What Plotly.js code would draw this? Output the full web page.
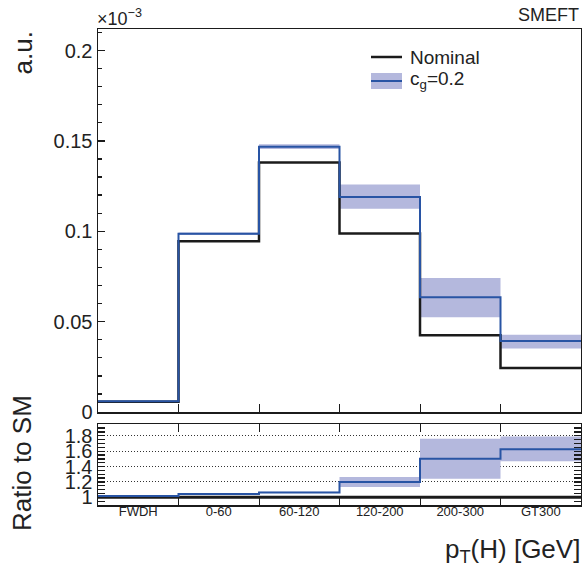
<!DOCTYPE html>
<html>
<head>
<meta charset="utf-8">
<script src="https://cdn.plot.ly/plotly-3.0.1.min.js"></script>
<style>html,body{margin:0;padding:0;background:#fff;}#chart{width:582px;height:572px;}</style>
</head>
<body>
<div id="chart"></div>
<script>
// ---- data (values in units of 1e-3 a.u.) ----
var categories = ['FWDH', '0-60', '60-120', '120-200', '200-300', 'GT300'];
var binEdges = [0, 1, 2, 3, 4, 5, 6];
var nominal = [0.0057, 0.0945, 0.1380, 0.0987, 0.0424, 0.0244];
var cg = [0.0059, 0.0986, 0.1467, 0.1190, 0.0635, 0.0393];
var cgLow = [0.0057, 0.0979, 0.1455, 0.1124, 0.0524, 0.0352];
var cgHigh = [0.0061, 0.0993, 0.1482, 0.1259, 0.0742, 0.0428];
var ratioNominal = [1, 1, 1, 1, 1, 1];
var ratio = [1.017, 1.043, 1.063, 1.200, 1.500, 1.626];
var ratioLow = [1.008, 1.036, 1.055, 1.135, 1.240, 1.470];
var ratioHigh = [1.026, 1.050, 1.071, 1.265, 1.760, 1.790];
var topTickVals = [0, 0.05, 0.1, 0.15, 0.2];
var topTickText = ['0', '0.05', '0.1', '0.15', '0.2'];
var ratioTickVals = [1, 1.2, 1.4, 1.6, 1.8];
var ratioTickText = ['1', '1.2', '1.4', '1.6', '1.8'];

// ---- layout geometry ----
var W = 582, H = 572;
var mL = 98, mR = 1, mT = 29, mB = 67;
var plotH = H - mT - mB;
var topBottomPx = 412, ratioTopPx = 424, ratioBottomPx = H - mB;
function px2x(px) { return (px - mL) / (W - mL - mR); }
function py2y(py) { return (ratioBottomPx - py) / plotH; }

function step(vals) { return vals.concat([vals[vals.length - 1]]); }
var centers = categories.map(function (c, i) { return (binEdges[i] + binEdges[i + 1]) / 2; });

var FONT = 'Liberation Sans, Arial, Helvetica, sans-serif';
var BLUE = 'rgb(40,84,164)';
var BAND = 'rgb(180,184,221)';
var BLACK = '#1b1b1b';

var traces = [
  // top panel
  {x: binEdges, y: step(cgLow), xaxis: 'x', yaxis: 'y', mode: 'lines', line: {shape: 'hv', width: 0, color: BAND}, hoverinfo: 'skip', showlegend: false},
  {x: binEdges, y: step(cgHigh), xaxis: 'x', yaxis: 'y', mode: 'lines', line: {shape: 'hv', width: 0, color: BAND}, fill: 'tonexty', fillcolor: BAND, hoverinfo: 'skip', showlegend: false},
  {x: binEdges, y: step(nominal), xaxis: 'x', yaxis: 'y', mode: 'lines', line: {shape: 'hv', width: 2.5, color: BLACK}, showlegend: false},
  {x: binEdges, y: step(cg), xaxis: 'x', yaxis: 'y', mode: 'lines', line: {shape: 'hv', width: 2, color: BLUE}, showlegend: false},
  // ratio panel
  {x: binEdges, y: step(ratioLow), xaxis: 'x2', yaxis: 'y2', mode: 'lines', line: {shape: 'hv', width: 0, color: BAND}, hoverinfo: 'skip', showlegend: false},
  {x: binEdges, y: step(ratioHigh), xaxis: 'x2', yaxis: 'y2', mode: 'lines', line: {shape: 'hv', width: 0, color: BAND}, fill: 'tonexty', fillcolor: BAND, hoverinfo: 'skip', showlegend: false},
  {x: binEdges, y: step(ratioNominal), xaxis: 'x2', yaxis: 'y2', mode: 'lines', line: {shape: 'hv', width: 3, color: BLACK}, showlegend: false},
  {x: binEdges, y: step(ratio), xaxis: 'x2', yaxis: 'y2', mode: 'lines', line: {shape: 'hv', width: 2, color: BLUE}, showlegend: false},
  // category labels axis
  {x: centers, y: ratio, xaxis: 'x3', yaxis: 'y2', mode: 'markers', marker: {opacity: 0}, hoverinfo: 'skip', showlegend: false}
];

var axisCommon = {showline: true, linecolor: BLACK, linewidth: 1.5, zeroline: false, ticks: 'inside', tickcolor: BLACK, fixedrange: true};

var layout = {
  width: W, height: H,
  margin: {l: mL, r: mR, t: mT, b: mB, pad: 0},
  paper_bgcolor: '#fff', plot_bgcolor: '#fff',
  font: {family: FONT, color: '#222'},
  showlegend: false,
  xaxis: Object.assign({}, axisCommon, {anchor: 'y', domain: [0, 1], range: [0, 6], tickvals: binEdges.slice(1, -1), ticklen: 8, showticklabels: false, showgrid: false, mirror: true}),
  yaxis: Object.assign({}, axisCommon, {anchor: 'x', domain: [py2y(topBottomPx), 1], range: [0, 0.2119], tickvals: topTickVals, ticktext: topTickText, ticklen: 7, tickwidth: 1.3, showgrid: false, mirror: true, tickfont: {size: 20, family: FONT, color: '#222'}, ticklabelstandoff: 0,
    minor: {dtick: 0.01, ticklen: 4, ticks: 'inside', tickcolor: BLACK, showgrid: false}}),
  xaxis2: Object.assign({}, axisCommon, {anchor: 'y2', domain: [0, 1], range: [0, 6], tickvals: binEdges.slice(1, -1), ticklen: 8, showticklabels: false, showgrid: false, mirror: 'ticks'}),
  xaxis3: {anchor: 'y2', overlaying: 'x2', domain: [0, 1], range: [0, 6], tickvals: centers, ticktext: categories, ticks: '', showline: false, showgrid: false, zeroline: false, side: 'bottom', tickfont: {size: 13, family: FONT, color: '#222'}, ticklabelstandoff: -3, fixedrange: true},
  yaxis2: Object.assign({}, axisCommon, {anchor: 'x2', domain: [0, py2y(ratioTopPx)], range: [0.9, 1.953], tickvals: ratioTickVals, ticktext: ratioTickText, ticklen: 7, tickwidth: 1.3, mirror: 'allticks',
    showgrid: true, gridcolor: '#333', griddash: '1px,2px', gridwidth: 1, tickfont: {size: 20, family: FONT, color: '#222'}, ticklabelstandoff: 0,
    minor: {dtick: 0.05, ticklen: 4, ticks: 'inside', tickcolor: BLACK, showgrid: false}}),
  shapes: [
    // legend samples
    {type: 'line', xref: 'paper', yref: 'paper', x0: px2x(371), x1: px2x(402), y0: py2y(57), y1: py2y(57), line: {color: BLACK, width: 2.5}},
    {type: 'rect', xref: 'paper', yref: 'paper', x0: px2x(371), x1: px2x(402), y0: py2y(89), y1: py2y(73), fillcolor: BAND, line: {width: 0}},
    {type: 'line', xref: 'paper', yref: 'paper', x0: px2x(371), x1: px2x(402), y0: py2y(81), y1: py2y(81), line: {color: BLUE, width: 2}}
  ],
  annotations: [
    {text: 'Nominal', xref: 'paper', yref: 'paper', x: px2x(408), y: py2y(57), xanchor: 'left', yanchor: 'middle', showarrow: false, font: {size: 19, family: FONT, color: '#222'}},
    {text: 'c<sub>g</sub>=0.2', xref: 'paper', yref: 'paper', x: px2x(408), y: py2y(80), xanchor: 'left', yanchor: 'middle', showarrow: false, font: {size: 19, family: FONT, color: '#222'}},
    {text: 'SMEFT', xref: 'paper', yref: 'paper', x: px2x(581), y: py2y(15), xanchor: 'right', yanchor: 'middle', showarrow: false, font: {size: 18, family: FONT, color: '#222'}},
    {text: '×10<sup>−3</sup>', xref: 'paper', yref: 'paper', x: px2x(95), y: py2y(17), xanchor: 'left', yanchor: 'middle', showarrow: false, font: {size: 18, family: FONT, color: '#222'}},
    {text: 'a.u.', xref: 'paper', yref: 'paper', x: px2x(22), y: py2y(30), xanchor: 'center', yanchor: 'top', textangle: -90, showarrow: false, font: {size: 26, family: FONT, color: '#222'}},
    {text: 'Ratio to SM', xref: 'paper', yref: 'paper', x: px2x(22), y: py2y(463), xanchor: 'center', yanchor: 'middle', textangle: -90, showarrow: false, font: {size: 26, family: FONT, color: '#222'}},
    {text: 'p<sub>T</sub>(H) [GeV]', xref: 'paper', yref: 'paper', x: px2x(582), y: py2y(550), xanchor: 'right', yanchor: 'middle', showarrow: false, font: {size: 26, family: FONT, color: '#222'}}
  ]
};

Plotly.newPlot('chart', traces, layout, {displayModeBar: false, staticPlot: true});
</script>
</body>
</html>
